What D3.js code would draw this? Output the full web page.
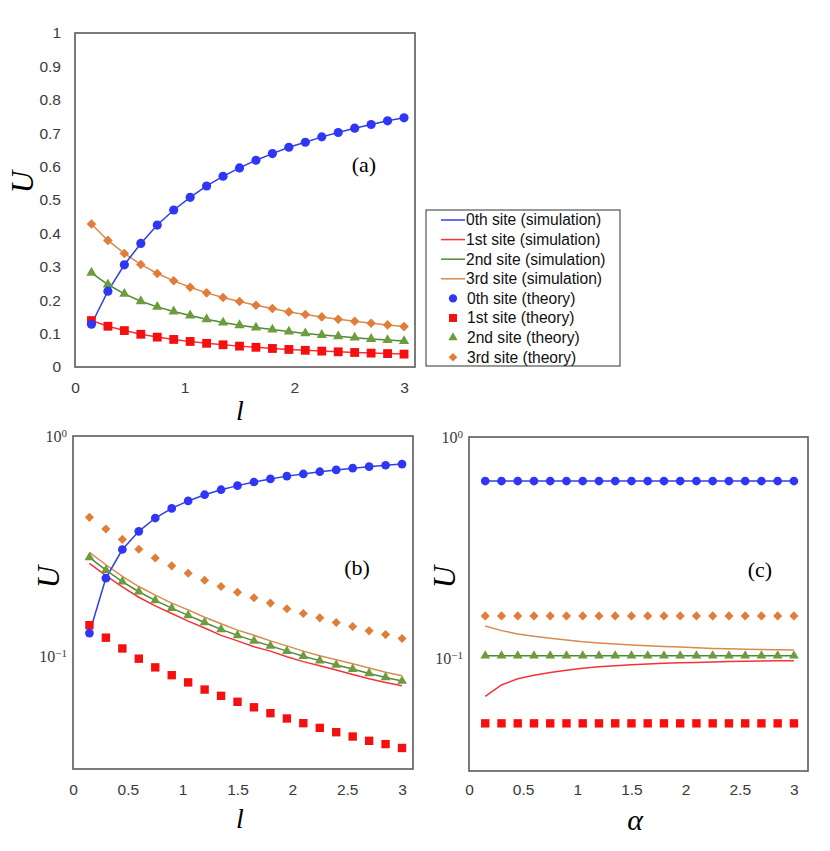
<!DOCTYPE html>
<html><head><meta charset="utf-8">
<script src="https://cdn.jsdelivr.net/npm/d3@7"></script>
<style>
html,body{margin:0;padding:0;background:#fff;}
svg{display:block;}
</style></head>
<body>
<svg id="chart" width="830" height="851"></svg>
<script>
// ---------------- data ----------------
const xVals = [0.15,0.3,0.45,0.6,0.75,0.9,1.05,1.2,1.35,1.5,1.65,1.8,1.95,2.1,2.25,2.4,2.55,2.7,2.85,3.0];

// theory values vs l (panels a, b)
const theory0 = [0.128,0.227,0.306,0.370,0.425,0.470,0.508,0.542,0.571,0.596,0.619,0.639,0.658,0.673,0.689,0.702,0.715,0.726,0.737,0.746];
const theory1 = [0.139,0.122,0.109,0.098,0.0895,0.0825,0.0765,0.071,0.0665,0.0625,0.059,0.0555,0.0525,0.050,0.0476,0.0455,0.0435,0.0416,0.0402,0.0386];
const theory2 = [0.282,0.247,0.219,0.197,0.180,0.166,0.154,0.143,0.133,0.125,0.118,0.112,0.106,0.1006,0.096,0.0917,0.0879,0.084,0.0805,0.0776];
const theory3 = [0.428,0.379,0.340,0.307,0.280,0.258,0.239,0.222,0.208,0.196,0.185,0.175,0.165,0.157,0.150,0.143,0.137,0.131,0.126,0.121];

// simulation values vs l shown in panel (b) for 1st and 3rd sites
const simB1 = [0.265,0.233,0.207,0.186,0.170,0.157,0.145,0.135,0.125,0.118,0.111,0.106,0.100,0.095,0.091,0.087,0.083,0.0795,0.0765,0.0738];
const simB3 = [0.297,0.261,0.231,0.208,0.190,0.175,0.163,0.151,0.141,0.132,0.125,0.118,0.112,0.106,0.101,0.097,0.093,0.089,0.085,0.082];

// panel (c): vs alpha
const theoryC0 = [0.632,0.632,0.632,0.632,0.632,0.632,0.632,0.632,0.632,0.632,0.632,0.632,0.632,0.632,0.632,0.632,0.632,0.632,0.632,0.632];
const theoryC1 = [0.0506,0.0506,0.0506,0.0506,0.0506,0.0506,0.0506,0.0506,0.0506,0.0506,0.0506,0.0506,0.0506,0.0506,0.0506,0.0506,0.0506,0.0506,0.0506,0.0506];
const theoryC2 = [0.1023,0.1023,0.1023,0.1023,0.1023,0.1023,0.1023,0.1023,0.1023,0.1023,0.1023,0.1023,0.1023,0.1023,0.1023,0.1023,0.1023,0.1023,0.1023,0.1023];
const theoryC3 = [0.155,0.155,0.155,0.155,0.155,0.155,0.155,0.155,0.155,0.155,0.155,0.155,0.155,0.155,0.155,0.155,0.155,0.155,0.155,0.155];
const simC1 = [0.067,0.0755,0.0805,0.0835,0.086,0.088,0.0898,0.0912,0.0922,0.0932,0.094,0.0946,0.0951,0.0955,0.0959,0.0963,0.0967,0.0969,0.0971,0.0972];
const simC3 = [0.1396,0.133,0.1285,0.1255,0.1228,0.1205,0.1185,0.117,0.1158,0.1146,0.1137,0.1128,0.112,0.1112,0.1105,0.110,0.1095,0.1092,0.1089,0.1087];

const ticksA_y = [0,0.1,0.2,0.3,0.4,0.5,0.6,0.7,0.8,0.9,1];
const ticksA_x = [0,1,2,3];
const ticksBC_x = [0,0.5,1,1.5,2,2.5,3];
const ticksLog = [{v:1, e:"0"}, {v:0.1, e:"\u22121"}];

const legendLabels = ["0th site (simulation)","1st site (simulation)","2nd site (simulation)","3rd site (simulation)",
                      "0th site (theory)","1st site (theory)","2nd site (theory)","3rd site (theory)"];

// ---------------- styles ----------------
const lineCol = ["#2f3fe6","#f3323a","#4f8a3a","#d98a4c"];
const markCol = ["#2f36f5","#f50f0f","#6c9c3e","#e07d38"];
const tickFont = "'Liberation Sans', Arial, sans-serif";
const serif = "'Liberation Serif', 'DejaVu Serif', serif";

const svg = d3.select("#chart");

function markerPath(k, s) {
  s = s || 1;
  if (k === 0) return d3.symbol(d3.symbolCircle, 66*s*s)();
  if (k === 1) return d3.symbol(d3.symbolSquare, 78*s*s)();
  if (k === 2) return d3.symbol(d3.symbolTriangle, 46*s*s)();
  return d3.symbol(d3.symbolSquare, 46*s*s)();
}
function drawMarkers(g, x, y, xs, ys, k, s) {
  g.append("g").selectAll("path").data(xs.map((v,i)=>[v, ys[i]])).join("path")
    .attr("d", markerPath(k, s))
    .attr("transform", d => `translate(${x(d[0])},${y(d[1])})` + (k===3 ? " rotate(45)" : ""))
    .attr("fill", markCol[k]);
}
function drawLine(g, x, y, xs, ys, k) {
  g.append("path").datum(xs.map((v,i)=>[v, ys[i]]))
    .attr("fill","none").attr("stroke", lineCol[k]).attr("stroke-width",1.5)
    .attr("d", d3.line().x(d=>x(d[0])).y(d=>y(d[1])));
}
function drawBox(x0,x1,y0,y1){
  svg.append("rect").attr("x",x0).attr("y",y0).attr("width",x1-x0).attr("height",y1-y0)
    .attr("fill","none").attr("stroke","#5a5a5a").attr("stroke-width",1.6);
}
function xTicks(x, ticks, yPos){
  const g = svg.append("g").attr("transform",`translate(0,${yPos})`)
    .call(d3.axisBottom(x).tickValues(ticks).tickSize(0).tickPadding(0).tickFormat(d3.format("")));
  g.select(".domain").remove();
  g.selectAll("text").attr("font-family",tickFont).attr("font-size",15.5).attr("fill","#3a3a3a").attr("dy","0.35em");
}
function logTicks(y, xRight){
  ticksLog.forEach(t=>{
    const tx = svg.append("text").attr("x",xRight).attr("y",y(t.v)).attr("text-anchor","end")
      .attr("font-family",serif).attr("font-size",16).attr("fill","#3a3a3a").attr("dy","0.35em");
    tx.append("tspan").text("10");
    tx.append("tspan").attr("dy","-0.45em").attr("font-size",11).text(t.e);
  });
}
function label(txt, xp, yp, size, italic, rotate){
  const t = svg.append("text").attr("x",xp).attr("y",yp).attr("text-anchor","middle")
    .attr("font-family",serif).attr("font-size",size).attr("fill","#000")
    .attr("font-style", italic ? "italic" : "normal").attr("dy","0.35em").text(txt);
  if (rotate) t.attr("transform",`rotate(-90,${xp},${yp})`);
}

// ---------------- panel (a) ----------------
{
  const x = d3.scaleLinear().domain([0,3.1]).range([75,415]);
  const y = d3.scaleLinear().domain([0,1]).range([367,33]);
  drawBox(75,415,33,367);
  const g = svg.append("g");
  drawLine(g,x,y,xVals,theory1,1);
  drawLine(g,x,y,xVals,theory2,2);
  drawLine(g,x,y,xVals,theory3,3);
  drawLine(g,x,y,xVals,theory0,0);
  drawMarkers(g,x,y,xVals,theory3,3);
  drawMarkers(g,x,y,xVals,theory2,2);
  drawMarkers(g,x,y,xVals,theory1,1);
  drawMarkers(g,x,y,xVals,theory0,0);
  const gy = svg.append("g").attr("transform","translate(61,0)")
    .call(d3.axisLeft(y).tickValues(ticksA_y).tickSize(0).tickPadding(0).tickFormat(d3.format("")));
  gy.select(".domain").remove();
  gy.selectAll("text").attr("font-family",tickFont).attr("font-size",15.5).attr("fill","#3a3a3a");
  xTicks(x, ticksA_x, 388);
  label("U", 22, 182, 31, true, true);
  label("l", 240, 410, 28, true, false);
  label("(a)", 364, 164, 22, false, false);
}

// ---------------- panel (b) ----------------
{
  const x = d3.scaleLinear().domain([0,3.1]).range([73,413]);
  const y = d3.scaleLog().domain([0.031,1]).range([769,436]);
  drawBox(73,413,436,769);
  const g = svg.append("g");
  drawLine(g,x,y,xVals,simB1,1);
  drawLine(g,x,y,xVals,simB3,3);
  drawLine(g,x,y,xVals,theory2,2);
  drawLine(g,x,y,xVals,theory0,0);
  drawMarkers(g,x,y,xVals,theory3,3,0.95);
  drawMarkers(g,x,y,xVals,theory2,2,0.95);
  drawMarkers(g,x,y,xVals,theory1,1,0.95);
  drawMarkers(g,x,y,xVals,theory0,0,0.95);
  logTicks(y, 67);
  xTicks(x, ticksBC_x, 790);
  label("U", 48, 577, 31, true, true);
  label("l", 240, 818, 28, true, false);
  label("(b)", 357, 567, 22, false, false);
}

// ---------------- panel (c) ----------------
{
  const x = d3.scaleLinear().domain([0,3.13]).range([469,808]);
  const y = d3.scaleLog().domain([0.0308,1]).range([771,437]);
  drawBox(469,808,437,771);
  const g = svg.append("g");
  drawLine(g,x,y,xVals,simC1,1);
  drawLine(g,x,y,xVals,simC3,3);
  drawLine(g,x,y,xVals,theoryC2,2);
  drawLine(g,x,y,xVals,theoryC0,0);
  drawMarkers(g,x,y,xVals,theoryC3,3,0.95);
  drawMarkers(g,x,y,xVals,theoryC2,2,0.95);
  drawMarkers(g,x,y,xVals,theoryC1,1,0.95);
  drawMarkers(g,x,y,xVals,theoryC0,0,0.95);
  logTicks(y, 463);
  xTicks(x, ticksBC_x, 790);
  label("U", 444, 577, 31, true, true);
  label("\u03B1", 635, 819, 30, true, false);
  label("(c)", 760, 569, 22, false, false);
}

// ---------------- legend ----------------
{
  svg.append("rect").attr("x",426).attr("y",210).attr("width",194).attr("height",156)
    .attr("fill","#fff").attr("stroke","#333").attr("stroke-width",1);
  const rowY = i => 220 + i*19.6;
  legendLabels.forEach((t,i)=>{
    const k = i % 4;
    if (i < 4) {
      svg.append("line").attr("x1",441).attr("x2",465).attr("y1",rowY(i)).attr("y2",rowY(i))
        .attr("stroke",lineCol[k]).attr("stroke-width",1.5);
    } else {
      svg.append("path").attr("d", markerPath(k, 0.9))
        .attr("transform",`translate(453,${rowY(i)})` + (k===3 ? " rotate(45)" : ""))
        .attr("fill", markCol[k]);
    }
    svg.append("text").attr("x", i<4 ? 466 : 467).attr("y",rowY(i)).attr("dy","0.35em")
      .attr("font-family",tickFont).attr("font-size",15.6).attr("fill","#111").text(t);
  });
}
</script>
</body></html>
